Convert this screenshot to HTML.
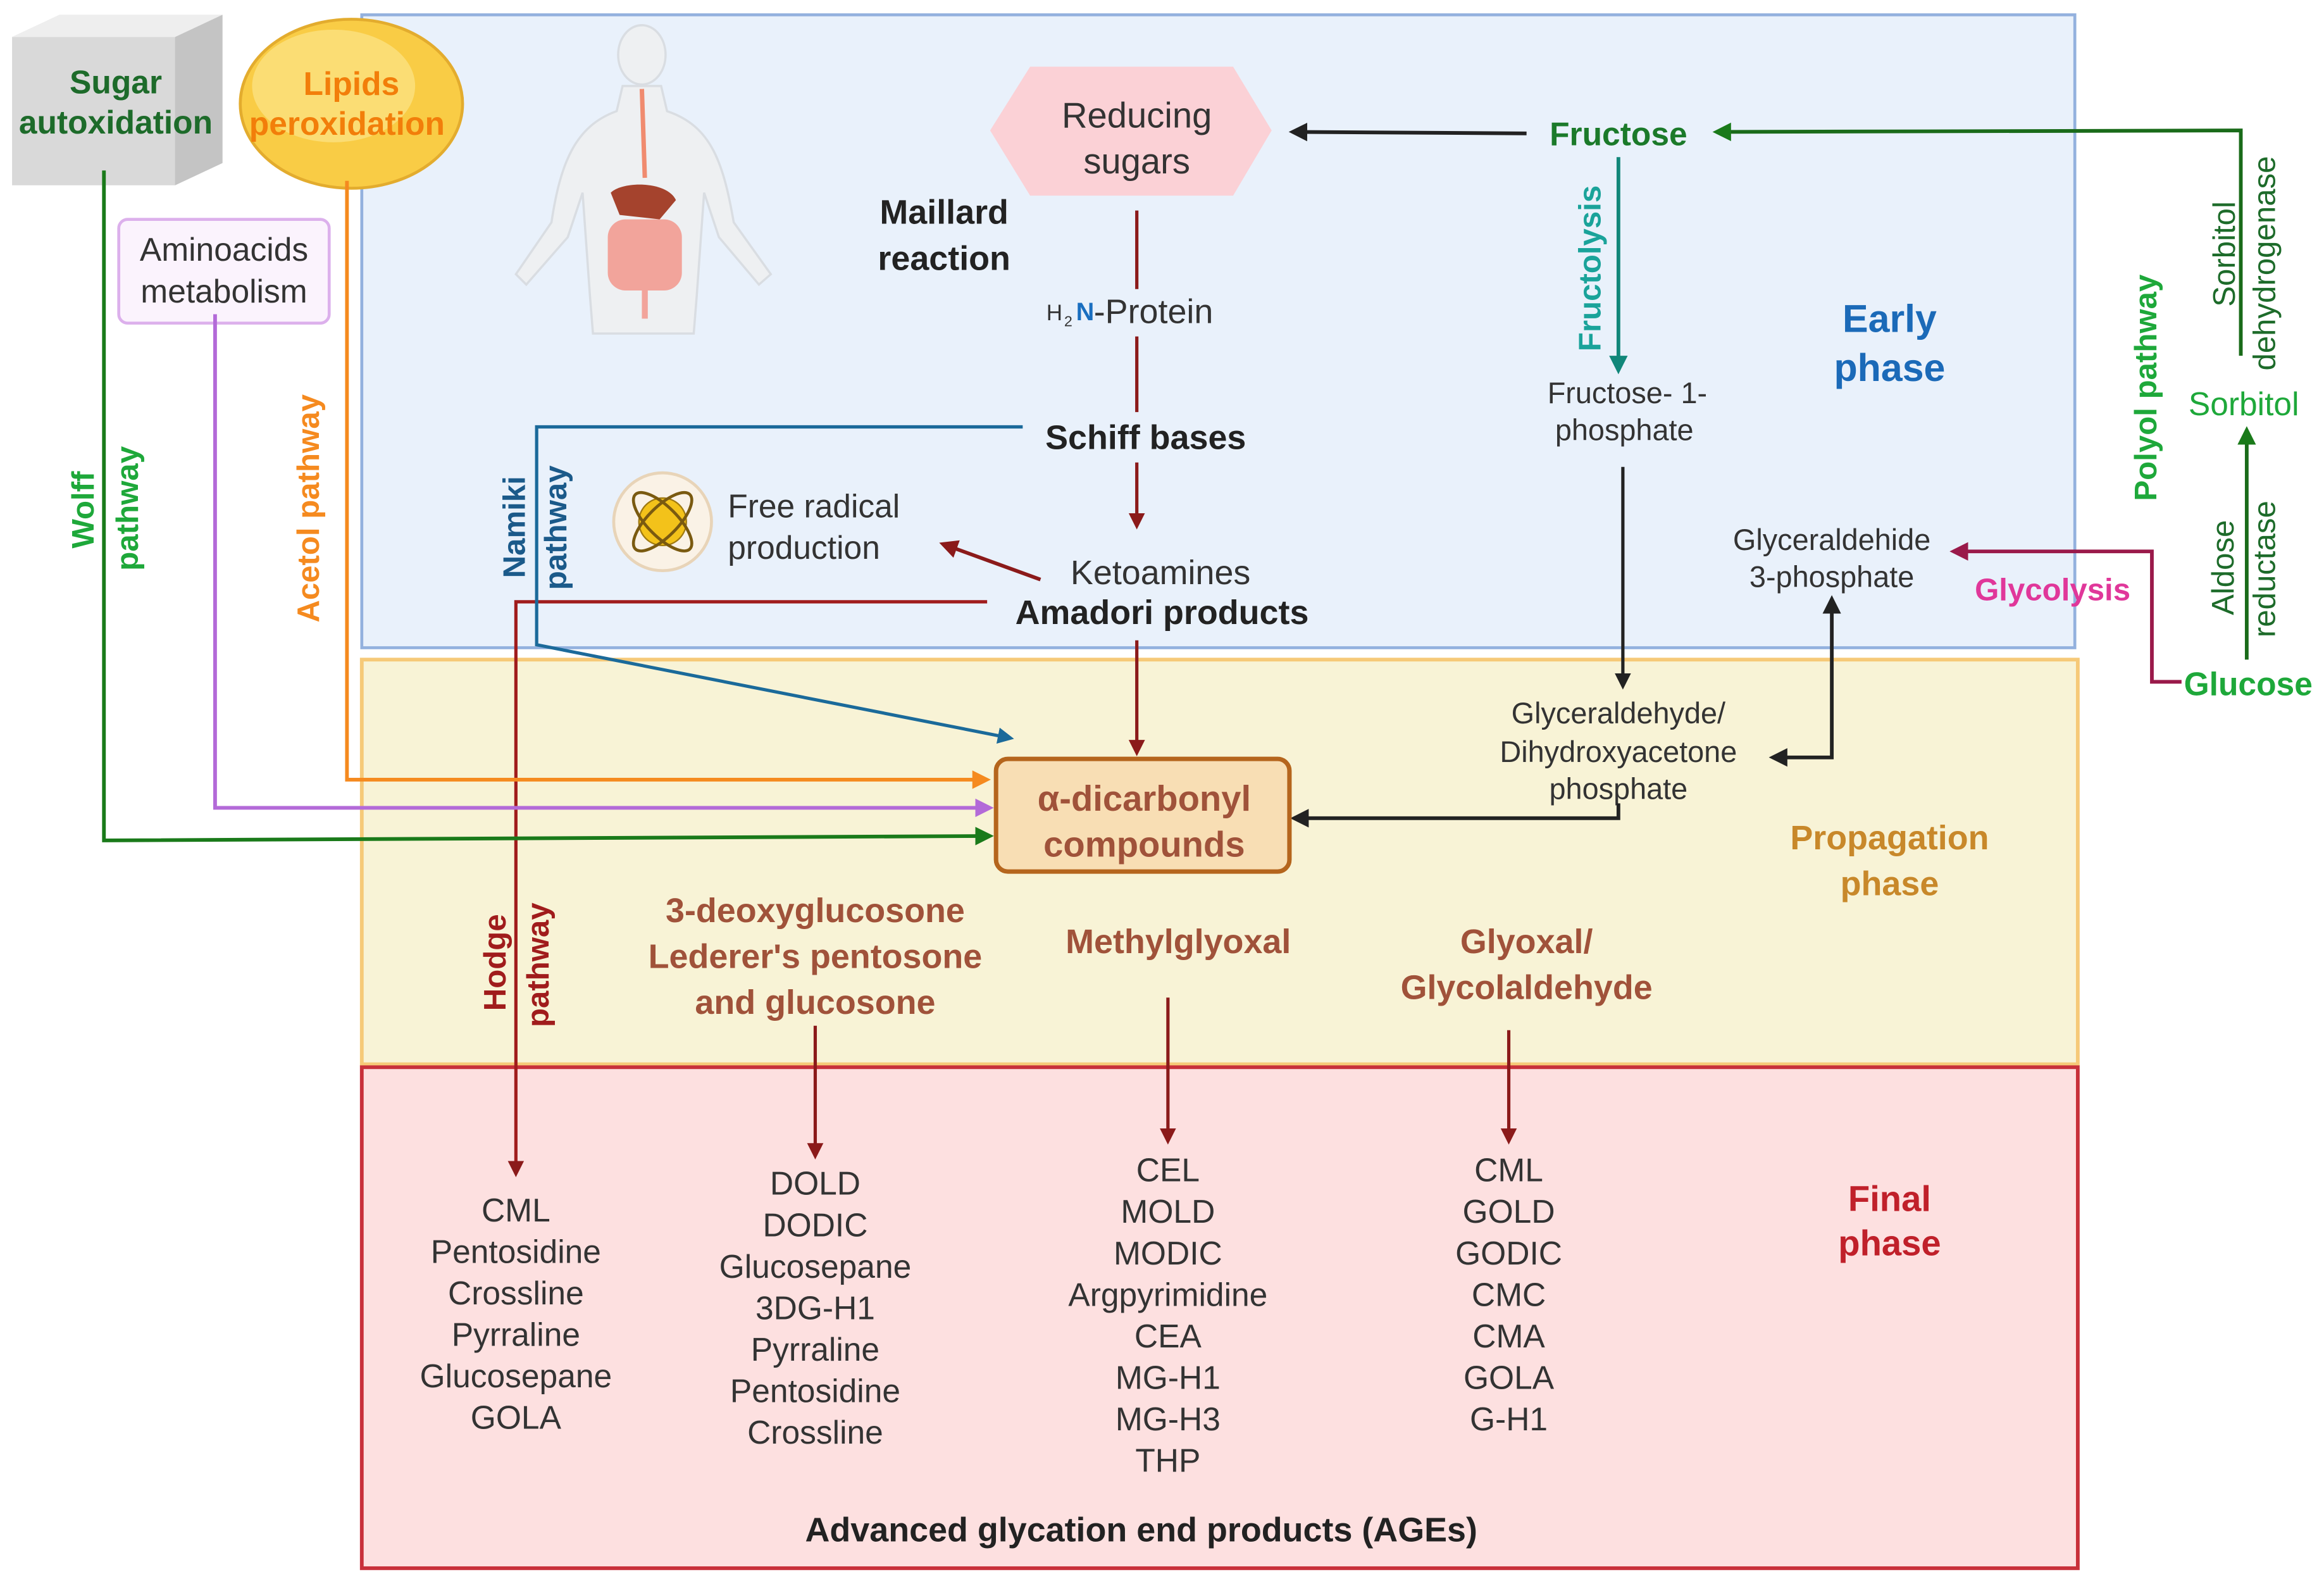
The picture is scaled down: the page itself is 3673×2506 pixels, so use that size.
<!DOCTYPE html>
<html><head><meta charset="utf-8"><style>
html,body{margin:0;padding:0;background:#fff}
svg{display:block}
text{font-family:"Liberation Sans",sans-serif}
</style></head><body>
<svg width="3673" height="2506" viewBox="0 0 1568 1070" xmlns="http://www.w3.org/2000/svg">
<defs>
<marker id="mk" viewBox="0 0 10 10" refX="8" refY="5" markerWidth="4" markerHeight="4" orient="auto-start-reverse"><path d="M0,0L10,5L0,10z" fill="context-stroke"/></marker>
<marker id="mb" viewBox="0 0 10 10" refX="8" refY="5" markerWidth="5" markerHeight="5" orient="auto-start-reverse"><path d="M0,0L10,5L0,10z" fill="#222"/></marker>
<marker id="mr" viewBox="0 0 10 10" refX="8" refY="5" markerWidth="5" markerHeight="5" orient="auto"><path d="M0,0L10,5L0,10z" fill="#8b1a1a"/></marker>
<marker id="mg" viewBox="0 0 10 10" refX="8" refY="5" markerWidth="5" markerHeight="5" orient="auto"><path d="M0,0L10,5L0,10z" fill="#1a7a1a"/></marker>
<marker id="mt" viewBox="0 0 10 10" refX="8" refY="5" markerWidth="5" markerHeight="5" orient="auto"><path d="M0,0L10,5L0,10z" fill="#11877a"/></marker>
<marker id="mo" viewBox="0 0 10 10" refX="8" refY="5" markerWidth="5" markerHeight="5" orient="auto"><path d="M0,0L10,5L0,10z" fill="#f58a1f"/></marker>
<marker id="mp" viewBox="0 0 10 10" refX="8" refY="5" markerWidth="5" markerHeight="5" orient="auto"><path d="M0,0L10,5L0,10z" fill="#b36ad8"/></marker>
<marker id="mbl" viewBox="0 0 10 10" refX="8" refY="5" markerWidth="5" markerHeight="5" orient="auto"><path d="M0,0L10,5L0,10z" fill="#1b6a9a"/></marker>
<marker id="mm" viewBox="0 0 10 10" refX="8" refY="5" markerWidth="5" markerHeight="5" orient="auto"><path d="M0,0L10,5L0,10z" fill="#9a1a4a"/></marker>
</defs>
<rect width="1568" height="1070" fill="#fff"/>
<!-- phase boxes -->
<rect x="244" y="10" width="1156" height="427" fill="#e9f1fb" stroke="#93b1de" stroke-width="2"/>
<rect x="244" y="445" width="1158" height="273" fill="#f8f3d6" stroke="#f6c978" stroke-width="2.5"/>
<rect x="244" y="720" width="1158" height="338" fill="#fde0e0" stroke="#c8303a" stroke-width="2.5"/>

<!-- sugar cube -->
<polygon points="8,25 40,10 150,10 150,110 118,125 8,125" fill="#d9d9d9"/>
<polygon points="8,25 40,10 150,10 118,25" fill="#eeeeee"/>
<polygon points="118,25 150,10 150,110 118,125" fill="#c4c4c4"/>
<text x="78" y="63" font-size="22" font-weight="bold" fill="#1d6b2a" text-anchor="middle">Sugar</text>
<text x="78" y="90" font-size="22" font-weight="bold" fill="#1d6b2a" text-anchor="middle">autoxidation</text>
<!-- lipids -->
<ellipse cx="237" cy="70" rx="75" ry="57" fill="#f9cc45" stroke="#e3ac2e" stroke-width="2"/>
<ellipse cx="225" cy="58" rx="55" ry="38" fill="#fbdd74"/>
<text x="237" y="64" font-size="22" font-weight="bold" fill="#f27e0a" text-anchor="middle">Lipids</text>
<text x="234" y="91" font-size="22" font-weight="bold" fill="#f27e0a" text-anchor="middle">peroxidation</text>
<!-- aminoacids -->
<rect x="80" y="148" width="142" height="70" rx="6" fill="#fbf3fd" stroke="#dcb0ec" stroke-width="2"/>
<text x="151" y="176" font-size="22" fill="#333" text-anchor="middle">Aminoacids</text>
<text x="151" y="204" font-size="22" fill="#333" text-anchor="middle">metabolism</text>

<!-- body silhouette -->
<g fill="#eef0f2" stroke="#d9dde2" stroke-width="1.5">
<ellipse cx="433" cy="37" rx="16" ry="20"/>
<path d="M420,58 L446,58 L450,75 C480,85 488,110 495,150 L520,185 L512,192 L485,160 L475,130 L470,200 L468,225 L440,225 L430,225 L400,225 L398,200 L393,130 L383,160 L355,192 L348,185 L372,150 C378,110 388,85 416,75Z"/>
</g>
<path d="M433,60 L435,120" stroke="#f08b6f" stroke-width="3" fill="none"/>
<path d="M412,130 C420,122 450,122 456,135 L445,148 L418,145Z" fill="#a5432d"/>
<rect x="410" y="148" width="50" height="48" rx="12" fill="#f2a49b"/>
<path d="M435,196 L435,215" stroke="#f2a49b" stroke-width="4"/>

<!-- reducing sugars hexagon -->
<polygon points="668,88 695,45 832,45 858,88 832,132 695,132" fill="#fbd1d6"/>
<text x="767" y="86" font-size="24" fill="#333" text-anchor="middle">Reducing</text>
<text x="767" y="117" font-size="24" fill="#333" text-anchor="middle">sugars</text>
<text x="637" y="151" font-size="23" font-weight="bold" fill="#222" text-anchor="middle">Maillard</text>
<text x="637" y="182" font-size="23" font-weight="bold" fill="#222" text-anchor="middle">reaction</text>
<text x="706" y="216" font-size="15" fill="#333">H</text><text x="718" y="220" font-size="10" fill="#333">2</text>
<text x="726" y="216" font-size="17" font-weight="bold" fill="#1a6fc0">N</text>
<text x="738" y="218" font-size="23" fill="#333">-Protein</text>
<text x="773" y="303" font-size="23" font-weight="bold" fill="#222" text-anchor="middle">Schiff bases</text>
<text x="783" y="394" font-size="23" fill="#333" text-anchor="middle">Ketoamines</text>
<text x="784" y="421" font-size="23" font-weight="bold" fill="#222" text-anchor="middle">Amadori products</text>
<!-- free radical icon -->
<circle cx="447" cy="352" r="33" fill="#faf2e6" stroke="#e8d4b8" stroke-width="2"/>
<circle cx="447" cy="352" r="16" fill="#f3c21a" stroke="#a07a10"/>
<ellipse cx="447" cy="352" rx="26" ry="10" fill="none" stroke="#7a5a10" stroke-width="2" transform="rotate(45 447 352)"/>
<ellipse cx="447" cy="352" rx="26" ry="10" fill="none" stroke="#7a5a10" stroke-width="2" transform="rotate(-45 447 352)"/>
<text x="491" y="349" font-size="22" fill="#333">Free radical</text>
<text x="491" y="377" font-size="22" fill="#333">production</text>

<!-- maillard chain -->
<path d="M767,142 L767,195 M767,227 L767,278" stroke="#8b1a1a" stroke-width="2.2" fill="none"/>
<path d="M767,312 L767,355" stroke="#8b1a1a" stroke-width="2.2" fill="none" marker-end="url(#mr)"/>
<path d="M702,391 L636,367" stroke="#8b1a1a" stroke-width="2.5" fill="none" marker-end="url(#mr)"/>
<path d="M767,432 L767,508" stroke="#8b1a1a" stroke-width="2.2" fill="none" marker-end="url(#mr)"/>
<!-- hodge -->
<path d="M666,406 L348,406 L348,792" stroke="#a01c1c" stroke-width="2.2" fill="none" marker-end="url(#mr)"/>
<!-- namiki -->
<path d="M690,288 L362,288 L362,435 L682,498" stroke="#1b6a9a" stroke-width="2.2" fill="none" marker-end="url(#mbl)"/>

<!-- fructose -->
<text x="1092" y="98" font-size="22" font-weight="bold" fill="#1b7a2a" text-anchor="middle">Fructose</text>
<path d="M1030,90 L872,89" stroke="#222" stroke-width="2.5" fill="none" marker-end="url(#mb)"/>
<path d="M1512,240 L1512,88 L1158,89" stroke="#1a6b1a" stroke-width="2.5" fill="none" marker-end="url(#mg)"/>
<path d="M1092,106 L1092,250" stroke="#11877a" stroke-width="2.5" fill="none" marker-end="url(#mt)"/>
<text transform="translate(1080,237) rotate(-90)" font-size="21" font-weight="bold" fill="#1aa39a">Fructolysis</text>
<text x="1098" y="272" font-size="20" fill="#333" text-anchor="middle">Fructose- 1-</text>
<text x="1096" y="297" font-size="20" fill="#333" text-anchor="middle">phosphate</text>
<path d="M1095,315 L1095,463" stroke="#222" stroke-width="2.2" fill="none" marker-end="url(#mb)"/>
<text x="1275" y="224" font-size="26" font-weight="bold" fill="#1b6ab8" text-anchor="middle">Early</text>
<text x="1275" y="257" font-size="26" font-weight="bold" fill="#1b6ab8" text-anchor="middle">phase</text>
<text x="1236" y="371" font-size="20" fill="#333" text-anchor="middle">Glyceraldehide</text>
<text x="1236" y="396" font-size="20" fill="#333" text-anchor="middle">3-phosphate</text>
<text x="1385" y="405" font-size="21" font-weight="bold" fill="#e0379a" text-anchor="middle">Glycolysis</text>
<path d="M1472,460 L1452,460 L1452,372 L1318,372" stroke="#9a1a4a" stroke-width="2.5" fill="none" marker-end="url(#mm)"/>
<text x="1517" y="469" font-size="22" font-weight="bold" fill="#1ea83a" text-anchor="middle">Glucose</text>
<path d="M1516,445 L1516,290" stroke="#1a6b1a" stroke-width="2.5" fill="none" marker-end="url(#mg)"/>
<text x="1514" y="280" font-size="22" fill="#1ea83a" text-anchor="middle">Sorbitol</text>
<text transform="translate(1507,415) rotate(-90)" font-size="21" fill="#1d6b2a">Aldose</text>
<text transform="translate(1535,430) rotate(-90)" font-size="21" fill="#1d6b2a">reductase</text>
<text transform="translate(1508,207) rotate(-90)" font-size="21" fill="#1d6b2a">Sorbitol</text>
<text transform="translate(1535,250) rotate(-90)" font-size="21" fill="#1d6b2a">dehydrogenase</text>
<text transform="translate(1455,338) rotate(-90)" font-size="21" font-weight="bold" fill="#1ea83a">Polyol pathway</text>

<!-- propagation -->
<text x="1092" y="488" font-size="20" fill="#333" text-anchor="middle">Glyceraldehyde/</text>
<text x="1092" y="514" font-size="20" fill="#333" text-anchor="middle">Dihydroxyacetone</text>
<text x="1092" y="539" font-size="20" fill="#333" text-anchor="middle">phosphate</text>
<path d="M1196,511 L1236,511 L1236,404" stroke="#222" stroke-width="2.5" fill="none" marker-end="url(#mb)" marker-start="url(#mb)"/>
<path d="M1092,542 L1092,552 L873,552" stroke="#222" stroke-width="2.5" fill="none" marker-end="url(#mb)"/>
<rect x="672" y="512" width="198" height="76" rx="8" fill="#f8deb4" stroke="#b5651d" stroke-width="3"/>
<text x="772" y="547" font-size="24" font-weight="bold" fill="#a0523a" text-anchor="middle">α-dicarbonyl</text>
<text x="772" y="578" font-size="24" font-weight="bold" fill="#a0523a" text-anchor="middle">compounds</text>
<text x="1275" y="573" font-size="23" font-weight="bold" fill="#c8882a" text-anchor="middle">Propagation</text>
<text x="1275" y="604" font-size="23" font-weight="bold" fill="#c8882a" text-anchor="middle">phase</text>

<!-- side pathways -->
<path d="M234,122 L234,526 L666,526" stroke="#f58a1f" stroke-width="2.5" fill="none" marker-end="url(#mo)"/>
<path d="M145,212 L145,545 L668,545" stroke="#b36ad8" stroke-width="2.5" fill="none" marker-end="url(#mp)"/>
<path d="M70,115 L70,567 L668,564" stroke="#1a7a1a" stroke-width="2.5" fill="none" marker-end="url(#mg)"/>
<text transform="translate(63,370) rotate(-90)" font-size="21" font-weight="bold" fill="#1ea83a">Wolff</text>
<text transform="translate(93,385) rotate(-90)" font-size="21" font-weight="bold" fill="#1ea83a">pathway</text>
<text transform="translate(215,420) rotate(-90)" font-size="21" font-weight="bold" fill="#f58a1f">Acetol pathway</text>
<text transform="translate(354,390) rotate(-90)" font-size="21" font-weight="bold" fill="#1b5a8a">Namiki</text>
<text transform="translate(382,398) rotate(-90)" font-size="21" font-weight="bold" fill="#1b5a8a">pathway</text>
<text transform="translate(341,682) rotate(-90)" font-size="21" font-weight="bold" fill="#a01c1c">Hodge</text>
<text transform="translate(370,693) rotate(-90)" font-size="21" font-weight="bold" fill="#a01c1c">pathway</text>

<g font-size="23" font-weight="bold" fill="#a0523a" text-anchor="middle">
<text x="550" y="622">3-deoxyglucosone</text>
<text x="550" y="653">Lederer's pentosone</text>
<text x="550" y="684">and glucosone</text>
<text x="795" y="643">Methylglyoxal</text>
<text x="1030" y="643">Glyoxal/</text>
<text x="1030" y="674">Glycolaldehyde</text>
</g>
<path d="M550,692 L550,780" stroke="#8b1a1a" stroke-width="2.2" fill="none" marker-end="url(#mr)"/>
<path d="M788,673 L788,770" stroke="#8b1a1a" stroke-width="2.2" fill="none" marker-end="url(#mr)"/>
<path d="M1018,695 L1018,770" stroke="#8b1a1a" stroke-width="2.2" fill="none" marker-end="url(#mr)"/>

<!-- final -->
<g font-size="22" fill="#333" text-anchor="middle">
<text x="348" y="824">CML</text><text x="348" y="852">Pentosidine</text><text x="348" y="880">Crossline</text><text x="348" y="908">Pyrraline</text><text x="348" y="936">Glucosepane</text><text x="348" y="964">GOLA</text>
<text x="550" y="806">DOLD</text><text x="550" y="834">DODIC</text><text x="550" y="862">Glucosepane</text><text x="550" y="890">3DG-H1</text><text x="550" y="918">Pyrraline</text><text x="550" y="946">Pentosidine</text><text x="550" y="974">Crossline</text>
<text x="788" y="797">CEL</text><text x="788" y="825">MOLD</text><text x="788" y="853">MODIC</text><text x="788" y="881">Argpyrimidine</text><text x="788" y="909">CEA</text><text x="788" y="937">MG-H1</text><text x="788" y="965">MG-H3</text><text x="788" y="993">THP</text>
<text x="1018" y="797">CML</text><text x="1018" y="825">GOLD</text><text x="1018" y="853">GODIC</text><text x="1018" y="881">CMC</text><text x="1018" y="909">CMA</text><text x="1018" y="937">GOLA</text><text x="1018" y="965">G-H1</text>
</g>
<text x="1275" y="817" font-size="24" font-weight="bold" fill="#c0202a" text-anchor="middle">Final</text>
<text x="1275" y="847" font-size="24" font-weight="bold" fill="#c0202a" text-anchor="middle">phase</text>
<text x="770" y="1040" font-size="23" font-weight="bold" fill="#222" text-anchor="middle">Advanced glycation end products (AGEs)</text>
</svg>
</body></html>
